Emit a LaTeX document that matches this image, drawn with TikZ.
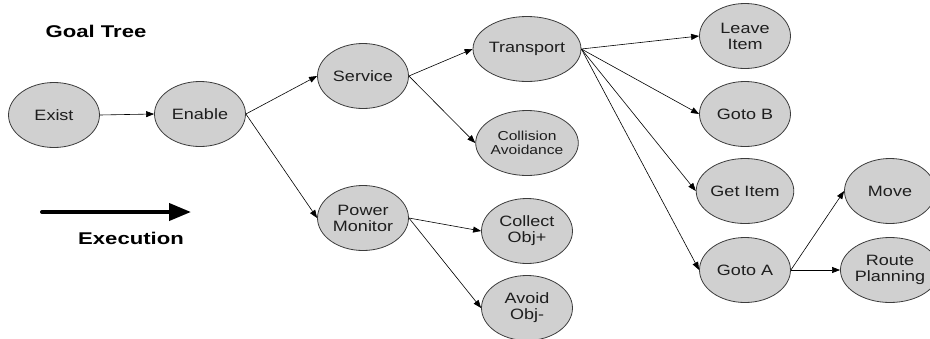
\documentclass[tikz,border=0pt]{standalone}
\usepackage{fontspec}
\setmainfont{Liberation Sans}[FakeStretch=1.2]
\newfontfamily\titlefont{Liberation Sans}[FakeStretch=1.3]
\usetikzlibrary{arrows.meta,shapes.geometric}
\definecolor{goalfill}{RGB}{208,208,208}
\definecolor{goalline}{RGB}{60,60,60}
\definecolor{goaltext}{RGB}{30,30,30}
\begin{document}
\begin{tikzpicture}[x=1pt,y=-1pt,
  goal/.style={ellipse, draw=goalline, fill=goalfill, line width=0.8pt,
    minimum width=91pt, minimum height=65pt, inner sep=0pt,
    align=center, text=goaltext, font=\fontsize{15}{16}\selectfont},
  smallgoal/.style={goal, font=\fontsize{13}{14}\selectfont},
  link/.style={draw=black, line width=0.6pt, -{Triangle[length=8pt,width=6pt]}},
  heading/.style={font=\titlefont\bfseries\fontsize{17}{18}\selectfont, inner sep=0pt}
]
\useasboundingbox (0,0) rectangle (930,338);

% goal nodes
\node[goal] (exist) at (54,115) {Exist};
\node[goal] (enable) at (200,114) {Enable};
\node[goal] (service) at (363,76) {Service};
\node[goal] (power) at (363,218) {Power\\Monitor};
\node[goal] (transport) at (527,49) {Transport};
\node[smallgoal] (collision) at (527,143) {Collision\\Avoidance};
\node[goal] (collect) at (527,231) {Collect\\Obj+};
\node[goal] (avoid) at (527,308) {Avoid\\Obj-};
\node[goal] (leave) at (745,36) {Leave\\Item};
\node[goal] (gotob) at (745,114) {Goto B};
\node[goal] (getitem) at (745,191) {Get Item};
\node[goal] (gotoa) at (745,270) {Goto A};
\node[goal] (move) at (890,191) {Move};
\node[goal] (route) at (890,270) {Route\\Planning};

% decomposition links
\draw[link] (exist.east) -- (enable.west);
\draw[link] (enable.east) -- (service.west);
\draw[link] (enable.east) -- (power.west);
\draw[link] (service.east) -- (transport.west);
\draw[link] (service.east) -- (collision.west);
\draw[link] (power.east) -- (collect.west);
\draw[link] (power.east) -- (avoid.west);
\draw[link] (transport.east) -- (leave.west);
\draw[link] (transport.east) -- (gotob.west);
\draw[link] (transport.east) -- (getitem.west);
\draw[link] (transport.east) -- (gotoa.west);
\draw[link] (gotoa.east) -- (move.west);
\draw[link] (gotoa.east) -- (route.west);

% title and execution legend
\node[heading] (title) at (96,31) {Goal Tree};
\coordinate (execstart) at (42,212);
\coordinate (execend) at (191,212);
\draw[line width=4pt, line cap=round, -{Triangle[length=22pt,width=17pt]}] (execstart) -- (execend);
\node[heading] (exec) at (131,238) {Execution};
\end{tikzpicture}
\end{document}
